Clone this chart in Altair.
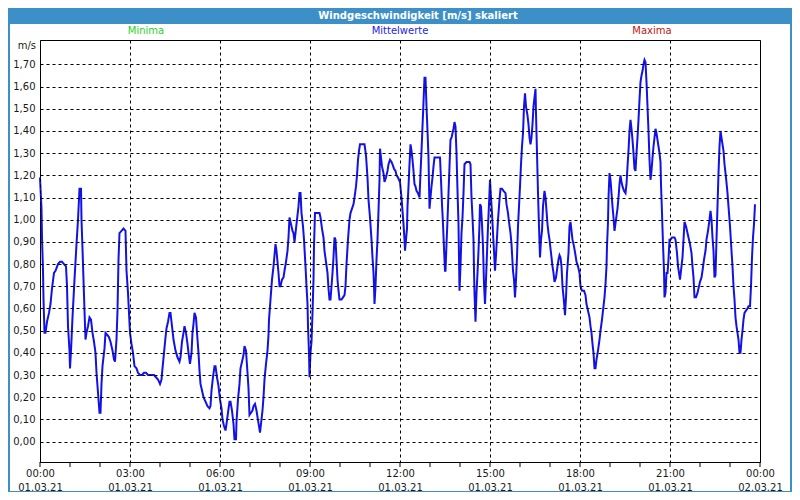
import json
import altair as alt
import pandas as pd

# ---- data (minutes after 01.03.21 00:00, wind speed m/s) ----
minutes = [
    0, 3, 4, 6, 7, 9, 11, 14, 18, 21, 24, 28, 31, 36, 40, 44, 48, 52, 54, 56,
    59, 60, 62, 65, 69, 73, 76, 79, 82, 83, 85, 87, 89, 91, 93, 96, 99, 102, 105, 108,
    111, 113, 116, 119, 121, 123, 125, 129, 131, 135, 138, 141, 145, 148, 150, 153, 155, 157, 159, 163,
    167, 171, 173, 176, 178, 180, 183, 186, 189, 193, 196, 200, 204, 208, 212, 216, 220, 228, 232, 236,
    240, 243, 245, 248, 251, 253, 256, 259, 261, 264, 267, 271, 275, 279, 281, 284, 287, 289, 292, 295,
    297, 300, 303, 305, 307, 309, 312, 315, 317, 319, 321, 324, 327, 331, 335, 339, 341, 343, 346, 349,
    351, 354, 357,
    360, 363, 365, 368, 371, 373, 376, 379, 381, 384, 387, 389, 392, 393, 396, 399, 401, 404, 407, 409,
    412, 415, 417, 419, 422, 425, 427, 430, 433, 435, 438, 440, 442, 445, 447, 449, 452, 455, 457, 458,
    460, 462, 464, 467, 469, 471, 473, 475, 477, 479, 481, 484, 487, 489, 492, 495, 497, 499, 502, 505,
    507, 509, 511, 514, 517, 519, 521, 523, 526, 528, 531, 533, 535, 536, 538, 539, 541, 543, 545, 547,
    548, 550, 553, 559, 561, 564, 567, 569, 572, 575, 577, 579, 581, 583, 585, 587, 589, 591, 593, 595,
    597, 599, 603, 606, 609, 611, 613, 616, 619, 621, 624, 627, 629, 632, 634, 636, 638, 640, 649, 652,
    655, 657, 660, 663, 665, 667, 668, 669, 671, 673, 675, 677, 679, 680, 682, 684, 687, 689, 692, 695,
    697, 700, 703, 705, 708, 711, 713,
    716, 720, 723, 725, 727, 729, 730, 732, 734, 735, 737, 739, 741, 743, 745, 747, 749, 751, 753, 756,
    759, 761, 763, 765, 767, 769, 771, 773, 775, 777, 778, 779, 781, 783, 785, 787, 789, 793, 797, 800,
    802, 804, 806, 808, 810, 811, 813, 815, 817, 819, 821, 823, 825, 827, 829, 831, 833, 835, 837, 838,
    839, 841, 843, 845, 847, 849, 853, 859, 861, 863, 865, 867, 868, 869, 871, 873, 875, 877, 879, 880,
    882, 884, 886, 888, 890, 892, 894, 896, 898, 900, 902, 904, 906, 908, 910, 912, 914, 916, 919, 921,
    924, 927, 931, 933, 936, 938, 941, 943, 946, 948, 950, 952, 954, 956, 958, 960, 962, 964, 966, 968,
    970, 972, 975, 977, 979, 981, 983, 985, 987, 989, 991, 992, 994, 996, 998, 1000, 1002, 1004, 1006, 1009,
    1011, 1013, 1015, 1017, 1019, 1021, 1023, 1025, 1027, 1029, 1032, 1035, 1037, 1039, 1041, 1043, 1045, 1048, 1050, 1052,
    1054, 1057, 1059, 1061, 1063, 1065, 1068, 1071, 1073,
    1076, 1079, 1081, 1084, 1088, 1091, 1093, 1096, 1099, 1101, 1103, 1105, 1107, 1109, 1111, 1113, 1116, 1119, 1121, 1124,
    1126, 1129, 1131, 1133, 1134, 1136, 1137, 1139, 1141, 1143, 1145, 1147, 1149, 1152, 1155, 1157, 1159, 1161, 1163, 1165,
    1168, 1171, 1173, 1175, 1177, 1179, 1181, 1183, 1185, 1187, 1189, 1191, 1193, 1195, 1197, 1199, 1201, 1203, 1205, 1207,
    1209, 1211, 1213, 1215, 1217, 1219, 1221, 1223, 1225, 1227, 1229, 1231, 1233, 1235, 1237, 1239, 1241, 1242, 1244, 1246,
    1248, 1249, 1251, 1253, 1255, 1257, 1259, 1261, 1264, 1267, 1269, 1271, 1274, 1276, 1278, 1280, 1282, 1285, 1287, 1289,
    1292, 1295, 1297, 1300, 1303, 1305, 1307, 1309, 1312, 1315, 1317, 1320, 1323, 1325, 1328, 1331, 1333, 1336, 1339, 1341,
    1343, 1345, 1347, 1349, 1351, 1353, 1355, 1357, 1359, 1361, 1363, 1365, 1367, 1369, 1372, 1375, 1377, 1380, 1383, 1385,
    1387, 1389, 1391, 1393, 1395, 1397, 1399, 1401, 1403, 1405, 1407, 1409, 1412, 1415, 1417, 1420, 1422, 1424, 1426, 1428,
    1430,
]
speed = [
    1.19, 1.05, 0.92, 0.77, 0.64, 0.49, 0.49, 0.54, 0.58, 0.62, 0.69, 0.76, 0.77, 0.80, 0.81, 0.81, 0.80, 0.79, 0.70, 0.52,
    0.41, 0.33, 0.41, 0.56, 0.73, 0.89, 1.00, 1.14, 1.14, 1.00, 0.87, 0.73, 0.59, 0.46, 0.49, 0.52, 0.56, 0.55, 0.49, 0.45,
    0.40, 0.31, 0.22, 0.13, 0.13, 0.26, 0.34, 0.42, 0.49, 0.48, 0.47, 0.45, 0.41, 0.37, 0.36, 0.46, 0.59, 0.82, 0.94, 0.95,
    0.96, 0.95, 0.77, 0.67, 0.58, 0.49, 0.44, 0.40, 0.34, 0.33, 0.31, 0.30, 0.30, 0.31, 0.31, 0.30, 0.30, 0.30, 0.29, 0.28,
    0.26, 0.28, 0.33, 0.40, 0.47, 0.51, 0.54, 0.58, 0.58, 0.52, 0.46, 0.41, 0.38, 0.36, 0.38, 0.45, 0.49, 0.52, 0.49, 0.44,
    0.40, 0.35, 0.40, 0.49, 0.53, 0.58, 0.56, 0.46, 0.40, 0.32, 0.26, 0.23, 0.20, 0.18, 0.16, 0.15, 0.16, 0.23, 0.29, 0.34,
    0.34, 0.29, 0.25,
    0.19, 0.15, 0.10, 0.07, 0.05, 0.08, 0.13, 0.18, 0.18, 0.14, 0.08, 0.01, 0.01, 0.09, 0.19, 0.26, 0.33, 0.36, 0.39, 0.43,
    0.41, 0.31, 0.24, 0.12, 0.13, 0.14, 0.16, 0.17, 0.14, 0.11, 0.07, 0.04, 0.08, 0.14, 0.20, 0.28, 0.35, 0.41, 0.48, 0.55,
    0.61, 0.67, 0.73, 0.79, 0.84, 0.89, 0.86, 0.81, 0.76, 0.70, 0.70, 0.73, 0.74, 0.77, 0.81, 0.86, 0.92, 1.01, 0.98, 0.95,
    0.94, 0.90, 0.94, 1.00, 1.06, 1.12, 1.12, 1.03, 0.97, 0.91, 0.79, 0.70, 0.62, 0.52, 0.40, 0.29, 0.40, 0.45, 0.58, 0.73,
    0.88, 1.03, 1.03, 1.03, 1.01, 0.96, 0.92, 0.86, 0.81, 0.76, 0.69, 0.64, 0.64, 0.70, 0.76, 0.83, 0.92, 0.91, 0.82, 0.73,
    0.68, 0.64, 0.64, 0.65, 0.66, 0.70, 0.80, 0.91, 1.00, 1.03, 1.05, 1.07, 1.10, 1.15, 1.20, 1.27, 1.31, 1.34, 1.34, 1.29,
    1.19, 1.09, 1.01, 0.91, 0.83, 0.76, 0.70, 0.62, 0.70, 0.82, 0.91, 1.04, 1.18, 1.32, 1.28, 1.24, 1.21, 1.17, 1.19, 1.22,
    1.25, 1.27, 1.26, 1.25, 1.23, 1.22, 1.20,
    1.19, 1.17, 1.10, 1.04, 0.98, 0.91, 0.86, 0.91, 0.96, 1.06, 1.15, 1.25, 1.34, 1.31, 1.27, 1.22, 1.16, 1.15, 1.13, 1.12,
    1.10, 1.21, 1.31, 1.42, 1.53, 1.64, 1.64, 1.51, 1.40, 1.28, 1.16, 1.05, 1.10, 1.15, 1.19, 1.24, 1.28, 1.28, 1.28, 1.28,
    1.18, 1.07, 0.98, 0.87, 0.77, 0.77, 0.89, 1.00, 1.12, 1.24, 1.36, 1.37, 1.39, 1.41, 1.44, 1.42, 1.30, 1.13, 0.98, 0.83,
    0.68, 0.79, 0.94, 1.01, 1.12, 1.25, 1.26, 1.26, 1.25, 1.10, 1.01, 0.91, 0.77, 0.67, 0.54, 0.67, 0.76, 0.86, 0.98, 1.07,
    1.06, 0.98, 0.88, 0.71, 0.62, 0.73, 0.85, 0.97, 1.07, 1.18, 1.10, 1.03, 0.94, 0.86, 0.77, 0.84, 0.92, 1.00, 1.09, 1.14,
    1.14, 1.13, 1.12, 1.07, 1.03, 0.99, 0.94, 0.89, 0.77, 0.73, 0.65, 0.73, 0.83, 0.97, 1.06, 1.15, 1.25, 1.33, 1.39, 1.51,
    1.57, 1.51, 1.47, 1.43, 1.37, 1.34, 1.37, 1.43, 1.51, 1.55, 1.59, 1.48, 1.30, 1.12, 0.97, 0.83, 0.91, 0.95, 1.06, 1.13,
    1.10, 1.04, 0.98, 0.94, 0.91, 0.87, 0.83, 0.79, 0.76, 0.72, 0.74, 0.79, 0.82, 0.84, 0.83, 0.79, 0.70, 0.63, 0.57, 0.65,
    0.76, 0.85, 0.97, 0.99, 0.95, 0.91, 0.88, 0.84, 0.81,
    0.79, 0.76, 0.70, 0.68, 0.68, 0.66, 0.62, 0.59, 0.56, 0.52, 0.49, 0.44, 0.40, 0.33, 0.33, 0.37, 0.41, 0.46, 0.50, 0.55,
    0.59, 0.65, 0.71, 0.79, 0.88, 0.99, 1.10, 1.21, 1.18, 1.12, 1.06, 1.01, 0.95, 1.00, 1.05, 1.10, 1.16, 1.20, 1.17, 1.15,
    1.13, 1.12, 1.16, 1.24, 1.31, 1.40, 1.45, 1.41, 1.36, 1.30, 1.23, 1.22, 1.30, 1.37, 1.45, 1.54, 1.62, 1.65, 1.67, 1.70,
    1.72, 1.71, 1.62, 1.51, 1.40, 1.27, 1.18, 1.22, 1.28, 1.33, 1.37, 1.41, 1.39, 1.36, 1.33, 1.30, 1.26, 1.16, 1.03, 0.89,
    0.77, 0.65, 0.67, 0.76, 0.76, 0.82, 0.91, 0.91, 0.92, 0.92, 0.92, 0.91, 0.85, 0.79, 0.76, 0.73, 0.77, 0.83, 0.91, 0.99,
    0.97, 0.94, 0.92, 0.89, 0.85, 0.79, 0.74, 0.65, 0.65, 0.67, 0.69, 0.72, 0.74, 0.77, 0.82, 0.86, 0.91, 0.95, 1.00, 1.04,
    1.00, 0.92, 0.86, 0.74, 0.75, 0.91, 1.06, 1.21, 1.33, 1.40, 1.37, 1.34, 1.31, 1.25, 1.19, 1.12, 1.06, 0.97, 0.86, 0.79,
    0.70, 0.64, 0.56, 0.52, 0.49, 0.46, 0.40, 0.40, 0.46, 0.50, 0.55, 0.58, 0.59, 0.60, 0.61, 0.61, 0.70, 0.83, 0.92, 0.98,
    1.07,
]

x_ticks = [0, 3, 6, 9, 12, 15, 18, 21, 24]
x_tick_times = ["00:00", "03:00", "06:00", "09:00", "12:00", "15:00", "18:00", "21:00", "00:00"]
x_tick_dates = ["01.03.21"] * 8 + ["02.03.21"]
hour_ticks = list(range(25))
y_ticks = [i / 10 for i in range(18)]
y_tick_labels = ["%d,%02d" % (i // 10, (i % 10) * 10) for i in range(18)]
title_text = "Windgeschwindigkeit [m/s] skaliert"
unit_text = "m/s"
header_labels = ["Minima", "Mittelwerte", "Maxima"]
header_colors = ["#2bd22b", "#2424e8", "#c41414"]

df = pd.DataFrame({"hour": [m / 60 for m in minutes], "speed": speed})

W, H = 720, 422
FONT = "DejaVu Sans"
xs = alt.Scale(domain=[0, 24], nice=False, zero=False)
ys = alt.Scale(domain=[-0.092, 1.81], nice=False, zero=False)
one = alt.Data(values=[{}])

x_label_expr = "[{t}[indexof({v}, datum.value)], {d}[indexof({v}, datum.value)]]".format(
    t=json.dumps(x_tick_times), d=json.dumps(x_tick_dates), v=json.dumps(x_ticks))
y_label_expr = "{l}[round(datum.value * 10)]".format(l=json.dumps(y_tick_labels))

x_axis = alt.Axis(
    values=x_ticks, labelExpr=x_label_expr, title=None, grid=True,
    gridColor="black", gridDash=[3, 3], gridOpacity=1, gridWidth=1,
    ticks=False, domain=False, labelFont=FONT, labelFontSize=10,
    labelColor="#1a1a1a", labelBaseline="top", labelPadding=6,
    labelLineHeight=14, labelAlign="center", labelFlush=False,
    labelOverlap=False, zindex=1)
y_axis = alt.Axis(
    values=y_ticks, labelExpr=y_label_expr, title=None, grid=True,
    gridColor="black", gridDash=[3, 3], gridOpacity=1, gridWidth=1,
    ticks=False, domain=False, labelFont=FONT, labelFontSize=10,
    labelColor="#1a1a1a", labelPadding=5, labelOverlap=False,
    labelFlush=False, zindex=1)


def box(x1, x2, y1, y2, color):
    return alt.Chart(one).mark_rect(color=color).encode(
        x=alt.value(x1), x2=alt.value(x2), y=alt.value(y1), y2=alt.value(y2))


bar = box(-32, 752, -32, -16, "#3d8fc8")
left_border = box(-32, -30, -32, 452, "#3d8fc8")
right_border = box(750, 752, -32, 452, "#3d8fc8")
bottom_border = box(-32, 752, 451, 452, "#3d8fc8")

line = alt.Chart(df).mark_line(color="#1212e6", strokeWidth=2).encode(
    x=alt.X("hour:Q", scale=xs, axis=x_axis),
    y=alt.Y("speed:Q", scale=ys, axis=y_axis),
)

hour_rules = alt.Chart(pd.DataFrame({"h": hour_ticks})).mark_rule(color="black").encode(
    x=alt.X("h:Q", scale=xs, axis=x_axis), y=alt.value(H), y2=alt.value(H + 5))

title = alt.Chart(one).mark_text(text=title_text, font=FONT, fontSize=10, fontWeight="bold",
                                 color="white", baseline="middle").encode(
    x=alt.value(378), y=alt.value(-24))

unit = alt.Chart(one).mark_text(text=unit_text, font=FONT, fontSize=10, color="#1a1a1a",
                                align="right", baseline="middle").encode(
    x=alt.value(-4), y=alt.value(6))

header_x = [106, 360, 612]
headers = [
    alt.Chart(one).mark_text(text=t, font=FONT, fontSize=10, color=c, baseline="middle").encode(
        x=alt.value(px), y=alt.value(-9))
    for t, c, px in zip(header_labels, header_colors, header_x)
]

chart = alt.layer(
    bar, left_border, right_border, bottom_border, line, hour_rules, title, unit, *headers
).properties(
    width=W, height=H,
    padding={"left": 32, "top": 32, "right": 32, "bottom": 30},
    autosize=alt.AutoSizeParams(type="none"),
    background="white",
).configure_view(stroke="black", strokeWidth=1)

chart.save("out.html", embed_options={"renderer": "svg", "actions": False})
